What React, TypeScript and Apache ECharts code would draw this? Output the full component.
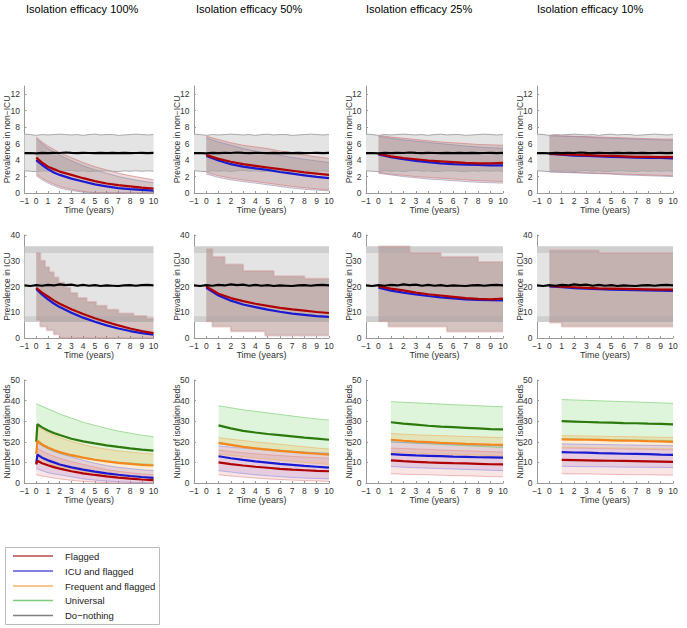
import React, { useEffect, useRef } from "react";
import * as echarts from "echarts";

const FONT = '"Liberation Sans", Arial, Helvetica, sans-serif';

// ---------- labels ----------
const TITLES = ["Isolation efficacy 100%", "Isolation efficacy 50%", "Isolation efficacy 25%", "Isolation efficacy 10%"];
const ROW_NAMES = ["Prevalence in non\u2212ICU", "Prevalence in ICU", "Number of isolation beds"];
const X_NAME = "Time (years)";
const LEGEND_NAMES = ["Flagged", "ICU and flagged", "Frequent and flagged", "Universal", "Do\u2212nothing"];
const LEGEND_COLORS = ["#b84a4a", "#5656d6", "#f2b26e", "#7ccc7c", "#808080"];
const Y_MAX = [13, 40, 50];
const Y_INTERVAL = [2, 10, 10];

// ---------- time grids ----------
const T_DN = [-1, -0.5, 0, 0.5, 1, 1.5, 2, 2.5, 3, 3.5, 4, 4.5, 5, 5.5, 6, 6.5, 7, 7.5, 8, 8.5, 9, 9.5, 10];
const T_SPAN = [-1, 10];
const T13 = [0, 0.5, 1, 1.5, 2, 3, 4, 5, 6, 7, 8, 9, 10];
const T11 = [0, 1, 2, 3, 4, 5, 6, 7, 8, 9, 10];
const T10 = [1, 2, 3, 4, 5, 6, 7, 8, 9, 10];
const T14 = [0, 0.1, 0.5, 1, 1.5, 2, 3, 4, 5, 6, 7, 8, 9, 10];

// ---------- row 1: prevalence in non-ICU ----------
const NI_DN_LINE = [4.84, 4.86, 4.82, 4.87, 4.85, 4.88, 4.86, 4.92, 4.88, 4.85, 4.88, 4.86, 4.84, 4.87, 4.85, 4.88, 4.85, 4.87, 4.84, 4.86, 4.88, 4.85, 4.87];
const NI_DN_UP = [7.15, 7.1, 7.0, 7.1, 7.05, 7.1, 7.15, 7.1, 7.05, 7.1, 7.0, 7.1, 7.15, 7.05, 7.1, 7.1, 7.0, 7.05, 7.1, 7.15, 7.1, 7.05, 7.1];
const NI_DN_LO = [2.7, 2.65, 2.6, 2.7, 2.65, 2.7, 2.6, 2.7, 2.75, 2.65, 2.7, 2.6, 2.65, 2.7, 2.7, 2.65, 2.6, 2.7, 2.65, 2.7, 2.65, 2.7, 2.65];

const NI100_FLAG = [4.3, 3.7, 3.2, 2.9, 2.6, 2.2, 1.8, 1.45, 1.15, 0.95, 0.8, 0.65, 0.55];
const NI100_ICU = [4.0, 3.4, 2.9, 2.5, 2.2, 1.75, 1.4, 1.05, 0.8, 0.6, 0.48, 0.38, 0.3];
const NI100_FLAG_UP = [6.8, 6.2, 5.7, 5.3, 4.9, 4.3, 3.7, 3.2, 2.8, 2.4, 2.1, 1.85, 1.6];
const NI100_FLAG_LO = [2.3, 1.8, 1.4, 1.1, 0.8, 0.45, 0.2, 0.05, 0, 0, 0, 0, 0];
const NI100_ICU_UP = [6.6, 6.0, 5.4, 5.0, 4.6, 3.9, 3.3, 2.8, 2.4, 2.0, 1.7, 1.45, 1.25];
const NI100_ICU_LO = [2.1, 1.6, 1.2, 0.9, 0.6, 0.3, 0.1, 0, 0, 0, 0, 0, 0];

const NI50_FLAG = [4.6, 4.15, 3.8, 3.5, 3.3, 3.1, 2.9, 2.7, 2.5, 2.35, 2.2];
const NI50_ICU = [4.5, 3.95, 3.5, 3.2, 3.0, 2.8, 2.55, 2.35, 2.15, 1.95, 1.8];
const NI50_FLAG_UP = [6.9, 6.5, 6.1, 5.8, 5.6, 5.4, 5.1, 4.9, 4.6, 4.4, 4.2];
const NI50_FLAG_LO = [2.5, 2.1, 1.8, 1.6, 1.4, 1.2, 1.0, 0.8, 0.65, 0.5, 0.4];
const NI50_ICU_UP = [6.7, 6.2, 5.8, 5.4, 5.1, 4.9, 4.6, 4.3, 4.1, 3.9, 3.7];
const NI50_ICU_LO = [2.3, 1.9, 1.6, 1.4, 1.2, 1.0, 0.8, 0.6, 0.45, 0.35, 0.25];

const NI25_FLAG = [4.75, 4.45, 4.25, 4.1, 3.95, 3.85, 3.75, 3.65, 3.6, 3.6, 3.65];
const NI25_ICU = [4.7, 4.35, 4.1, 3.9, 3.75, 3.6, 3.5, 3.45, 3.4, 3.35, 3.35];
const NI25_FLAG_UP = [7.0, 6.8, 6.65, 6.5, 6.35, 6.2, 6.1, 6.0, 5.9, 5.85, 5.8];
const NI25_FLAG_LO = [2.5, 2.3, 2.15, 2.0, 1.9, 1.8, 1.7, 1.6, 1.5, 1.45, 1.4];
const NI25_ICU_UP = [6.9, 6.65, 6.45, 6.3, 6.15, 6.0, 5.85, 5.7, 5.6, 5.5, 5.45];
const NI25_ICU_LO = [2.4, 2.2, 2.0, 1.85, 1.7, 1.6, 1.5, 1.4, 1.3, 1.25, 1.2];

const NI10_FLAG = [4.8, 4.7, 4.65, 4.6, 4.55, 4.5, 4.45, 4.4, 4.4, 4.35, 4.35];
const NI10_ICU = [4.75, 4.65, 4.55, 4.5, 4.45, 4.4, 4.35, 4.3, 4.25, 4.25, 4.2];
const NI10_FLAG_UP = [7.0, 6.95, 6.9, 6.85, 6.8, 6.75, 6.7, 6.65, 6.6, 6.55, 6.55];
const NI10_FLAG_LO = [2.6, 2.55, 2.5, 2.45, 2.4, 2.35, 2.3, 2.25, 2.2, 2.15, 2.1];
const NI10_ICU_UP = [6.95, 6.9, 6.85, 6.8, 6.7, 6.65, 6.6, 6.55, 6.5, 6.45, 6.4];
const NI10_ICU_LO = [2.55, 2.5, 2.45, 2.4, 2.35, 2.3, 2.2, 2.15, 2.1, 2.05, 2.0];

// ---------- row 2: prevalence in ICU ----------
const ICU_DN_LINE = [20.4, 20.2, 20.5, 20.3, 20.6, 20.4, 20.8, 20.5, 20.7, 20.3, 20.6, 20.3, 20.5, 20.2, 20.4, 20.3, 20.2, 20.4, 20.5, 20.3, 20.5, 20.6, 20.4];
const ICU_DN_UP = [35.6, 35.6];
const ICU_DN_UP_IN = [33.0, 33.0];
const ICU_DN_LO_IN = [8.4, 8.4];
const ICU_DN_LO = [6.2, 6.2];

const ICU100_FLAG = [19.5, 17.6, 16.1, 14.6, 13.3, 11.2, 9.3, 7.7, 6.2, 4.9, 3.7, 2.7, 1.9];
const ICU100_ICU = [19.0, 16.8, 15.0, 13.4, 12.0, 9.8, 7.9, 6.3, 4.9, 3.7, 2.7, 1.9, 1.3];
const ICU100_UP = [[0, 33], [0.35, 33], [0.35, 30], [0.75, 30], [0.75, 27.5], [1.1, 27.5], [1.1, 25.5], [1.5, 25.5], [1.5, 23.5], [1.9, 23.5], [1.9, 21.5], [2.4, 21.5], [2.4, 19.5], [2.9, 19.5], [2.9, 17.5], [3.5, 17.5], [3.5, 15.5], [4.3, 15.5], [4.3, 14], [5.1, 14], [5.1, 12.5], [6.0, 12.5], [6.0, 11], [7.0, 11], [7.0, 9.5], [8.3, 9.5], [8.3, 8.5], [9.4, 8.5], [9.4, 7.5], [10, 7.5]];
const ICU100_LO = [[0, 7], [0.35, 7], [0.35, 4.5], [0.9, 4.5], [0.9, 3], [1.5, 3], [1.5, 1.5], [2.0, 1.5], [2.0, 0], [10, 0]];

const ICU50_FLAG = [20, 17.2, 15.5, 14.3, 13.3, 12.5, 11.7, 11.1, 10.6, 10.1, 9.7];
const ICU50_ICU = [19.5, 16.5, 14.5, 13.0, 12.0, 11.0, 10.2, 9.5, 9.0, 8.5, 8.2];
const ICU50_UP = [[0, 34.5], [0.5, 34.5], [0.5, 31.5], [1.5, 31.5], [1.5, 28.5], [3.0, 28.5], [3.0, 26], [5.5, 26], [5.5, 24], [8, 24], [8, 23], [10, 23]];
const ICU50_LO = [[0, 6.5], [0.5, 6.5], [0.5, 4.5], [2.0, 4.5], [2.0, 2.6], [4.8, 2.6], [4.8, 1], [10, 1]];

const ICU25_FLAG = [20, 19.2, 18.5, 17.6, 17.0, 16.5, 16.0, 15.5, 15.2, 15.0, 15.3];
const ICU25_ICU = [19.5, 18.4, 17.6, 16.9, 16.3, 15.8, 15.4, 15.0, 14.8, 14.7, 14.6];
const ICU25_UP = [[0, 35.5], [2.5, 35.5], [2.5, 33], [5, 33], [5, 31.5], [8, 31.5], [8, 29.5], [10, 29.5]];
const ICU25_LO = [[0, 6.5], [0.8, 6.5], [0.8, 4.5], [5.5, 4.5], [5.5, 2.5], [10, 2.5]];

const ICU10_FLAG = [20.2, 19.9, 19.7, 19.5, 19.3, 19.2, 19.1, 19.0, 18.9, 18.8, 18.8];
const ICU10_ICU = [20.0, 19.7, 19.4, 19.2, 19.0, 18.8, 18.7, 18.6, 18.5, 18.4, 18.3];
const ICU10_UP = [[0, 34], [4, 34], [4, 33], [10, 33]];
const ICU10_LO = [[0, 6], [1, 6], [1, 4.5], [10, 4.5]];

// ---------- row 3: number of isolation beds ----------
const BED100_GREEN = [20, 28.5, 27.0, 25.5, 24.3, 23.3, 21.5, 20.2, 19.2, 18.3, 17.5, 16.8, 16.2, 15.7];
const BED100_ORANGE = [14, 20.5, 18.7, 17.2, 16.0, 15.0, 13.5, 12.3, 11.3, 10.5, 9.8, 9.3, 8.8, 8.5];
const BED100_BLUE = [9.5, 13.8, 12.3, 11.0, 10.0, 9.0, 7.6, 6.5, 5.5, 4.7, 4.0, 3.4, 2.9, 2.5];
const BED100_RED = [9, 10.8, 9.6, 8.6, 7.7, 7.0, 5.7, 4.7, 3.9, 3.2, 2.6, 2.1, 1.7, 1.4];
const BED100_GREEN_UP = [38.5, 37.2, 36.0, 34.8, 33.5, 31.5, 29.5, 28.0, 26.5, 25.2, 24.2, 23.2, 22.5];
const BED100_GREEN_LO = [20, 18, 16.5, 15.3, 14.3, 13, 12, 11.2, 10.6, 10.1, 9.7, 9.3, 9];
const BED100_ORANGE_UP = [28, 26, 24.5, 23.2, 22, 20.2, 18.6, 17.3, 16.4, 15.6, 15, 14.5, 14];
const BED100_ORANGE_LO = [13, 11, 9.6, 8.6, 8, 6.8, 5.6, 4.7, 4, 3.5, 3, 2.7, 2.5];
const BED100_BLUE_UP = [20, 18.2, 16.8, 15.5, 14.5, 12.6, 11, 9.6, 8.5, 7.6, 7, 6.4, 6];
const BED100_BLUE_LO = [7, 6, 5, 4.4, 4, 3, 2, 1.4, 1, 0.6, 0.3, 0.1, 0];
const BED100_RED_UP = [17, 15.5, 14.2, 13, 12, 10.4, 9, 7.7, 6.5, 5.7, 5, 4.4, 4];
const BED100_RED_LO = [4, 3.4, 2.9, 2.4, 2, 1.3, 0.8, 0.5, 0.2, 0, 0, 0, 0];

const BED50_GREEN = [28, 26.5, 25.3, 24.5, 23.8, 23.2, 22.6, 22.0, 21.5, 21.0];
const BED50_ORANGE = [19.5, 18.5, 17.5, 16.8, 16.2, 15.6, 15.1, 14.6, 14.2, 13.8];
const BED50_BLUE = [13, 12, 11.2, 10.5, 9.9, 9.3, 8.8, 8.3, 7.9, 7.5];
const BED50_RED = [10, 9.2, 8.5, 7.9, 7.4, 6.9, 6.5, 6.2, 5.9, 5.7];
const BED50_GREEN_UP = [37.5, 36.5, 35.5, 34.8, 34, 33.3, 32.5, 31.8, 31.1, 30.5];
const BED50_GREEN_LO = [19, 18.3, 17.6, 17, 16.5, 16, 15.5, 15, 14.5, 14];
const BED50_ORANGE_UP = [22, 21.3, 20.6, 20, 19.4, 18.8, 18.2, 17.6, 17, 16.5];
const BED50_ORANGE_LO = [14, 13.4, 12.8, 12.2, 11.6, 11, 10.5, 10, 9.5, 9];
const BED50_BLUE_UP = [18, 17.4, 16.9, 16.4, 16, 15.6, 15.3, 15, 14.7, 14.5];
const BED50_BLUE_LO = [6, 5.3, 4.6, 4, 3.5, 3.1, 2.7, 2.4, 2.2, 2];
const BED50_RED_UP = [16, 15.3, 14.7, 14.2, 13.7, 13.3, 12.9, 12.6, 12.3, 12];
const BED50_RED_LO = [4, 3.4, 2.9, 2.4, 2, 1.7, 1.4, 1.2, 1, 0.8];

const BED25_GREEN = [29.5, 28.8, 28.3, 27.8, 27.4, 27.1, 26.8, 26.5, 26.2, 26];
const BED25_ORANGE = [21, 20.5, 20.1, 19.8, 19.5, 19.3, 19, 18.8, 18.6, 18.5];
const BED25_BLUE = [14, 13.7, 13.4, 13.2, 13, 12.8, 12.7, 12.5, 12.4, 12.3];
const BED25_RED = [11, 10.6, 10.3, 10, 9.8, 9.6, 9.5, 9.3, 9.1, 9];
const BED25_GREEN_UP = [39.5, 39.2, 38.9, 38.6, 38.3, 38, 37.8, 37.5, 37.2, 37];
const BED25_GREEN_LO = [20, 19.6, 19.3, 19, 18.7, 18.4, 18.1, 17.8, 17.5, 17.2];
const BED25_ORANGE_UP = [24, 23.7, 23.4, 23.2, 23, 22.8, 22.6, 22.4, 22.2, 22];
const BED25_ORANGE_LO = [15, 14.7, 14.5, 14.3, 14.1, 13.9, 13.7, 13.5, 13.3, 13.1];
const BED25_BLUE_UP = [20, 19.7, 19.4, 19.2, 19, 18.8, 18.6, 18.4, 18.2, 18];
const BED25_BLUE_LO = [8, 7.7, 7.4, 7.2, 7, 6.8, 6.6, 6.4, 6.2, 6];
const BED25_RED_UP = [17, 16.7, 16.5, 16.3, 16, 15.8, 15.6, 15.4, 15.2, 15];
const BED25_RED_LO = [4.5, 4.3, 4.1, 4, 3.8, 3.6, 3.5, 3.3, 3.1, 3];

const BED10_GREEN = [30, 29.8, 29.6, 29.4, 29.3, 29.1, 29, 28.8, 28.7, 28.5];
const BED10_ORANGE = [21.2, 21.1, 21, 20.9, 20.7, 20.6, 20.5, 20.3, 20.2, 20];
const BED10_BLUE = [15, 14.8, 14.7, 14.5, 14.4, 14.2, 14.1, 14, 13.8, 13.7];
const BED10_RED = [11.2, 11.1, 11, 10.9, 10.8, 10.7, 10.6, 10.5, 10.4, 10.3];
const BED10_GREEN_UP = [40.5, 40.3, 40.1, 39.9, 39.7, 39.5, 39.3, 39.1, 38.9, 38.7];
const BED10_GREEN_LO = [21.5, 21.4, 21.3, 21.2, 21.1, 21, 20.9, 20.8, 20.7, 20.6];
const BED10_ORANGE_UP = [23, 22.9, 22.8, 22.7, 22.6, 22.5, 22.4, 22.3, 22.2, 22.1];
const BED10_ORANGE_LO = [17.4, 17.3, 17.2, 17.1, 17, 16.9, 16.8, 16.7, 16.6, 16.5];
const BED10_BLUE_UP = [19, 18.9, 18.8, 18.7, 18.6, 18.5, 18.4, 18.3, 18.2, 18.1];
const BED10_BLUE_LO = [8.1, 8, 7.9, 7.9, 7.8, 7.7, 7.7, 7.6, 7.6, 7.5];
const BED10_RED_UP = [17, 16.9, 16.8, 16.7, 16.6, 16.5, 16.4, 16.3, 16.2, 16.1];
const BED10_RED_LO = [4.5, 4.4, 4.4, 4.3, 4.2, 4.1, 4.0, 4.0, 3.9, 3.8];

// ---------- panel tables built from the arrays ----------
const PREV_PANELS = [
  { t: T13, flag: NI100_FLAG, icu: NI100_ICU, fUp: NI100_FLAG_UP, fLo: NI100_FLAG_LO, iUp: NI100_ICU_UP, iLo: NI100_ICU_LO },
  { t: T11, flag: NI50_FLAG, icu: NI50_ICU, fUp: NI50_FLAG_UP, fLo: NI50_FLAG_LO, iUp: NI50_ICU_UP, iLo: NI50_ICU_LO },
  { t: T11, flag: NI25_FLAG, icu: NI25_ICU, fUp: NI25_FLAG_UP, fLo: NI25_FLAG_LO, iUp: NI25_ICU_UP, iLo: NI25_ICU_LO },
  { t: T11, flag: NI10_FLAG, icu: NI10_ICU, fUp: NI10_FLAG_UP, fLo: NI10_FLAG_LO, iUp: NI10_ICU_UP, iLo: NI10_ICU_LO },
];
const ICU_PANELS = [
  { t: T13, flag: ICU100_FLAG, icu: ICU100_ICU, up: ICU100_UP, lo: ICU100_LO },
  { t: T11, flag: ICU50_FLAG, icu: ICU50_ICU, up: ICU50_UP, lo: ICU50_LO },
  { t: T11, flag: ICU25_FLAG, icu: ICU25_ICU, up: ICU25_UP, lo: ICU25_LO },
  { t: T11, flag: ICU10_FLAG, icu: ICU10_ICU, up: ICU10_UP, lo: ICU10_LO },
];
const BED_PANELS = [
  { tl: T14, tb: T13, lines: [BED100_GREEN, BED100_ORANGE, BED100_BLUE, BED100_RED], ups: [BED100_GREEN_UP, BED100_ORANGE_UP, BED100_BLUE_UP, BED100_RED_UP], los: [BED100_GREEN_LO, BED100_ORANGE_LO, BED100_BLUE_LO, BED100_RED_LO] },
  { tl: T10, tb: T10, lines: [BED50_GREEN, BED50_ORANGE, BED50_BLUE, BED50_RED], ups: [BED50_GREEN_UP, BED50_ORANGE_UP, BED50_BLUE_UP, BED50_RED_UP], los: [BED50_GREEN_LO, BED50_ORANGE_LO, BED50_BLUE_LO, BED50_RED_LO] },
  { tl: T10, tb: T10, lines: [BED25_GREEN, BED25_ORANGE, BED25_BLUE, BED25_RED], ups: [BED25_GREEN_UP, BED25_ORANGE_UP, BED25_BLUE_UP, BED25_RED_UP], los: [BED25_GREEN_LO, BED25_ORANGE_LO, BED25_BLUE_LO, BED25_RED_LO] },
  { tl: T10, tb: T10, lines: [BED10_GREEN, BED10_ORANGE, BED10_BLUE, BED10_RED], ups: [BED10_GREEN_UP, BED10_ORANGE_UP, BED10_BLUE_UP, BED10_RED_UP], los: [BED10_GREEN_LO, BED10_ORANGE_LO, BED10_BLUE_LO, BED10_RED_LO] },
];

// ---------- layout / style ----------
const COL_LEFT = [24.5, 194, 366, 537];
const COL_RIGHT = [153.5, 329, 503, 673];
const ROW_TOP = [86, 235, 380];
const ROW_BOTTOM = [193, 338, 483];
const TITLE_LEFT = [26, 196, 366, 537];

const C_RED = "#b00000";
const C_BLUE = "#1a1ad0";
const C_ORANGE = "#f4861e";
const C_GREEN = "#2b7a0b";
const BED_LINE_COLORS = [C_GREEN, C_ORANGE, C_BLUE, C_RED];
const BED_FILLS = ["rgba(110,210,90,0.22)", "rgba(240,170,60,0.22)", "rgba(130,110,220,0.2)", "rgba(230,110,110,0.18)"];
const BED_EDGES = ["rgba(120,205,110,0.65)", "rgba(240,175,95,0.6)", "rgba(145,140,230,0.6)", "rgba(230,140,140,0.6)"];

const zip = (t: number[], v: number[]) => t.map((x, i) => [x, v[i]]);

const lineSeries = (g: number, data: number[][], color: string, width: number, z: number) => ({
  type: "line",
  xAxisIndex: g,
  yAxisIndex: g,
  data,
  symbol: "none",
  showSymbol: false,
  silent: true,
  z,
  lineStyle: { color, width },
  itemStyle: { color },
  emphasis: { disabled: true },
});

const bandSeries = (g: number, up: number[][], lo: number[][], fill: string, z: number) => {
  const pts = up.concat(lo.slice().reverse());
  return {
    type: "custom",
    xAxisIndex: g,
    yAxisIndex: g,
    silent: true,
    z,
    clip: true,
    dimensions: ["x", "y"],
    encode: { x: 0, y: 1 },
    data: pts,
    renderItem: (params: any, api: any) => {
      if (params.dataIndex !== 0) return null;
      return {
        type: "polygon",
        shape: { points: pts.map((p) => api.coord(p)) },
        style: { fill, stroke: null },
      };
    },
  };
};

function buildOption() {
  const grid: any[] = [];
  const xAxis: any[] = [];
  const yAxis: any[] = [];
  const series: any[] = [];
  const axisLineStyle = { color: "#9a9a9a", width: 1 };

  for (let r = 0; r < 3; r++) {
    for (let c = 0; c < 4; c++) {
      const g = r * 4 + c;
      grid.push({
        left: COL_LEFT[c],
        top: ROW_TOP[r],
        width: COL_RIGHT[c] - COL_LEFT[c],
        height: ROW_BOTTOM[r] - ROW_TOP[r],
        outerBoundsMode: "none",
        containLabel: false,
      });
      xAxis.push({
        type: "value",
        gridIndex: g,
        min: -1,
        max: 10,
        interval: 1,
        axisLine: { show: true, onZero: false, lineStyle: axisLineStyle },
        axisTick: { show: true, inside: true, length: 2, lineStyle: axisLineStyle },
        splitLine: { show: false },
        axisLabel: {
          fontSize: 8.5,
          color: "#333",
          margin: 3,
          fontFamily: FONT,
          formatter: (v: number) => String(v).replace("-", "\u2212"),
        },
        name: X_NAME,
        nameLocation: "middle",
        nameGap: 12,
        nameMoveOverlap: false,
        nameTextStyle: { fontSize: 9, color: "#333", fontFamily: FONT },
      });
      yAxis.push({
        type: "value",
        gridIndex: g,
        min: 0,
        max: Y_MAX[r],
        interval: Y_INTERVAL[r],
        axisLine: { show: true, onZero: false, lineStyle: axisLineStyle },
        axisTick: { show: true, inside: true, length: 2, lineStyle: axisLineStyle },
        splitLine: { show: false },
        axisLabel: {
          fontSize: 8.5,
          color: "#333",
          margin: 4.5,
          fontFamily: FONT,
          showMaxLabel: r !== 0,
        },
        name: ROW_NAMES[r],
        nameLocation: "middle",
        nameGap: 13,
        nameMoveOverlap: false,
        nameTextStyle: { fontSize: 8.5, color: "#333", fontFamily: FONT },
      });

      if (r === 0) {
        const p = PREV_PANELS[c];
        series.push(bandSeries(g, zip(T_DN, NI_DN_UP), zip(T_DN, NI_DN_LO), "#e4e4e4", 1));
        series.push(bandSeries(g, zip(p.t, p.fUp), zip(p.t, p.fLo), "rgba(150,75,70,0.2)", 2));
        series.push(bandSeries(g, zip(p.t, p.iUp), zip(p.t, p.iLo), "rgba(85,70,90,0.15)", 2));
        series.push(lineSeries(g, zip(p.t, p.fUp), "rgba(215,130,130,0.7)", 1, 3));
        series.push(lineSeries(g, zip(p.t, p.fLo), "rgba(215,130,130,0.7)", 1, 3));
        series.push(lineSeries(g, zip(p.t, p.iUp), "rgba(140,130,170,0.55)", 1, 3));
        series.push(lineSeries(g, zip(p.t, p.iLo), "rgba(140,130,170,0.55)", 1, 3));
        series.push(lineSeries(g, zip(T_DN, NI_DN_UP), "#a8a8a8", 1, 3));
        series.push(lineSeries(g, zip(T_DN, NI_DN_LO), "#a8a8a8", 1, 3));
        series.push(lineSeries(g, zip(p.t, p.icu), C_BLUE, 2.2, 4));
        series.push(lineSeries(g, zip(p.t, p.flag), C_RED, 2.2, 4));
        series.push(lineSeries(g, zip(T_DN, NI_DN_LINE), "#000", 2.2, 5));
      } else if (r === 1) {
        const p = ICU_PANELS[c];
        series.push(bandSeries(g, zip(T_SPAN, ICU_DN_UP), zip(T_SPAN, ICU_DN_LO), "#e4e4e4", 1));
        series.push(bandSeries(g, p.up, p.lo, "rgba(130,75,72,0.33)", 2));
        series.push(bandSeries(g, zip(T_SPAN, ICU_DN_UP), zip(T_SPAN, ICU_DN_UP_IN), "rgba(165,165,165,0.32)", 3));
        series.push(bandSeries(g, zip(T_SPAN, ICU_DN_LO_IN), zip(T_SPAN, ICU_DN_LO), "rgba(165,165,165,0.32)", 3));
        series.push(lineSeries(g, p.up, "rgba(205,150,150,0.45)", 2, 3));
        series.push(lineSeries(g, p.lo, "rgba(205,150,150,0.45)", 2, 3));
        series.push(lineSeries(g, zip(p.t, p.icu), C_BLUE, 2.2, 4));
        series.push(lineSeries(g, zip(p.t, p.flag), C_RED, 2.2, 4));
        series.push(lineSeries(g, zip(T_DN, ICU_DN_LINE), "#000", 2.2, 5));
      } else {
        const p = BED_PANELS[c];
        for (let k = 0; k < 4; k++) {
          series.push(bandSeries(g, zip(p.tb, p.ups[k]), zip(p.tb, p.los[k]), BED_FILLS[k], 2));
        }
        for (let k = 0; k < 4; k++) {
          series.push(lineSeries(g, zip(p.tb, p.ups[k]), BED_EDGES[k], 1, 3));
          series.push(lineSeries(g, zip(p.tb, p.los[k]), BED_EDGES[k], 1, 3));
        }
        for (let k = 0; k < 4; k++) {
          series.push(lineSeries(g, zip(p.tl, p.lines[k]), BED_LINE_COLORS[k], 2.2, 4));
        }
      }
    }
  }

  const title = TITLES.map((text, c) => ({
    text,
    left: TITLE_LEFT[c],
    top: 3,
    padding: 0,
    textStyle: { fontSize: 11, fontWeight: "normal", color: "#000", fontFamily: FONT },
  }));

  const LEG_Y = [556, 571, 586, 600.5, 615.5];
  const graphic: any[] = [
    {
      type: "rect",
      shape: { x: 5.5, y: 547.5, width: 154, height: 77 },
      style: { fill: "#fff", stroke: "#bbbbbb", lineWidth: 1 },
      z: 10,
    },
  ];
  LEGEND_NAMES.forEach((name, i) => {
    graphic.push({
      type: "line",
      shape: { x1: 13, y1: LEG_Y[i], x2: 53, y2: LEG_Y[i] },
      style: { stroke: LEGEND_COLORS[i], lineWidth: 1.5 },
      z: 11,
    });
    graphic.push({
      type: "text",
      x: 65,
      y: LEG_Y[i],
      style: { text: name, fontSize: 9.5, fontFamily: FONT, fill: "#222", verticalAlign: "middle", align: "left" },
      z: 11,
    });
  });

  return {
    animation: false,
    backgroundColor: "#fff",
    title,
    grid,
    xAxis,
    yAxis,
    series,
    graphic,
  };
}

export default function App() {
  const ref = useRef<HTMLDivElement>(null);
  useEffect(() => {
    if (!ref.current) return;
    const chart = echarts.init(ref.current, undefined, { renderer: "svg" });
    chart.setOption(buildOption() as any);
    return () => chart.dispose();
  }, []);
  return <div ref={ref} style={{ position: "absolute", left: 0, top: 0, width: 687, height: 628 }} />;
}
